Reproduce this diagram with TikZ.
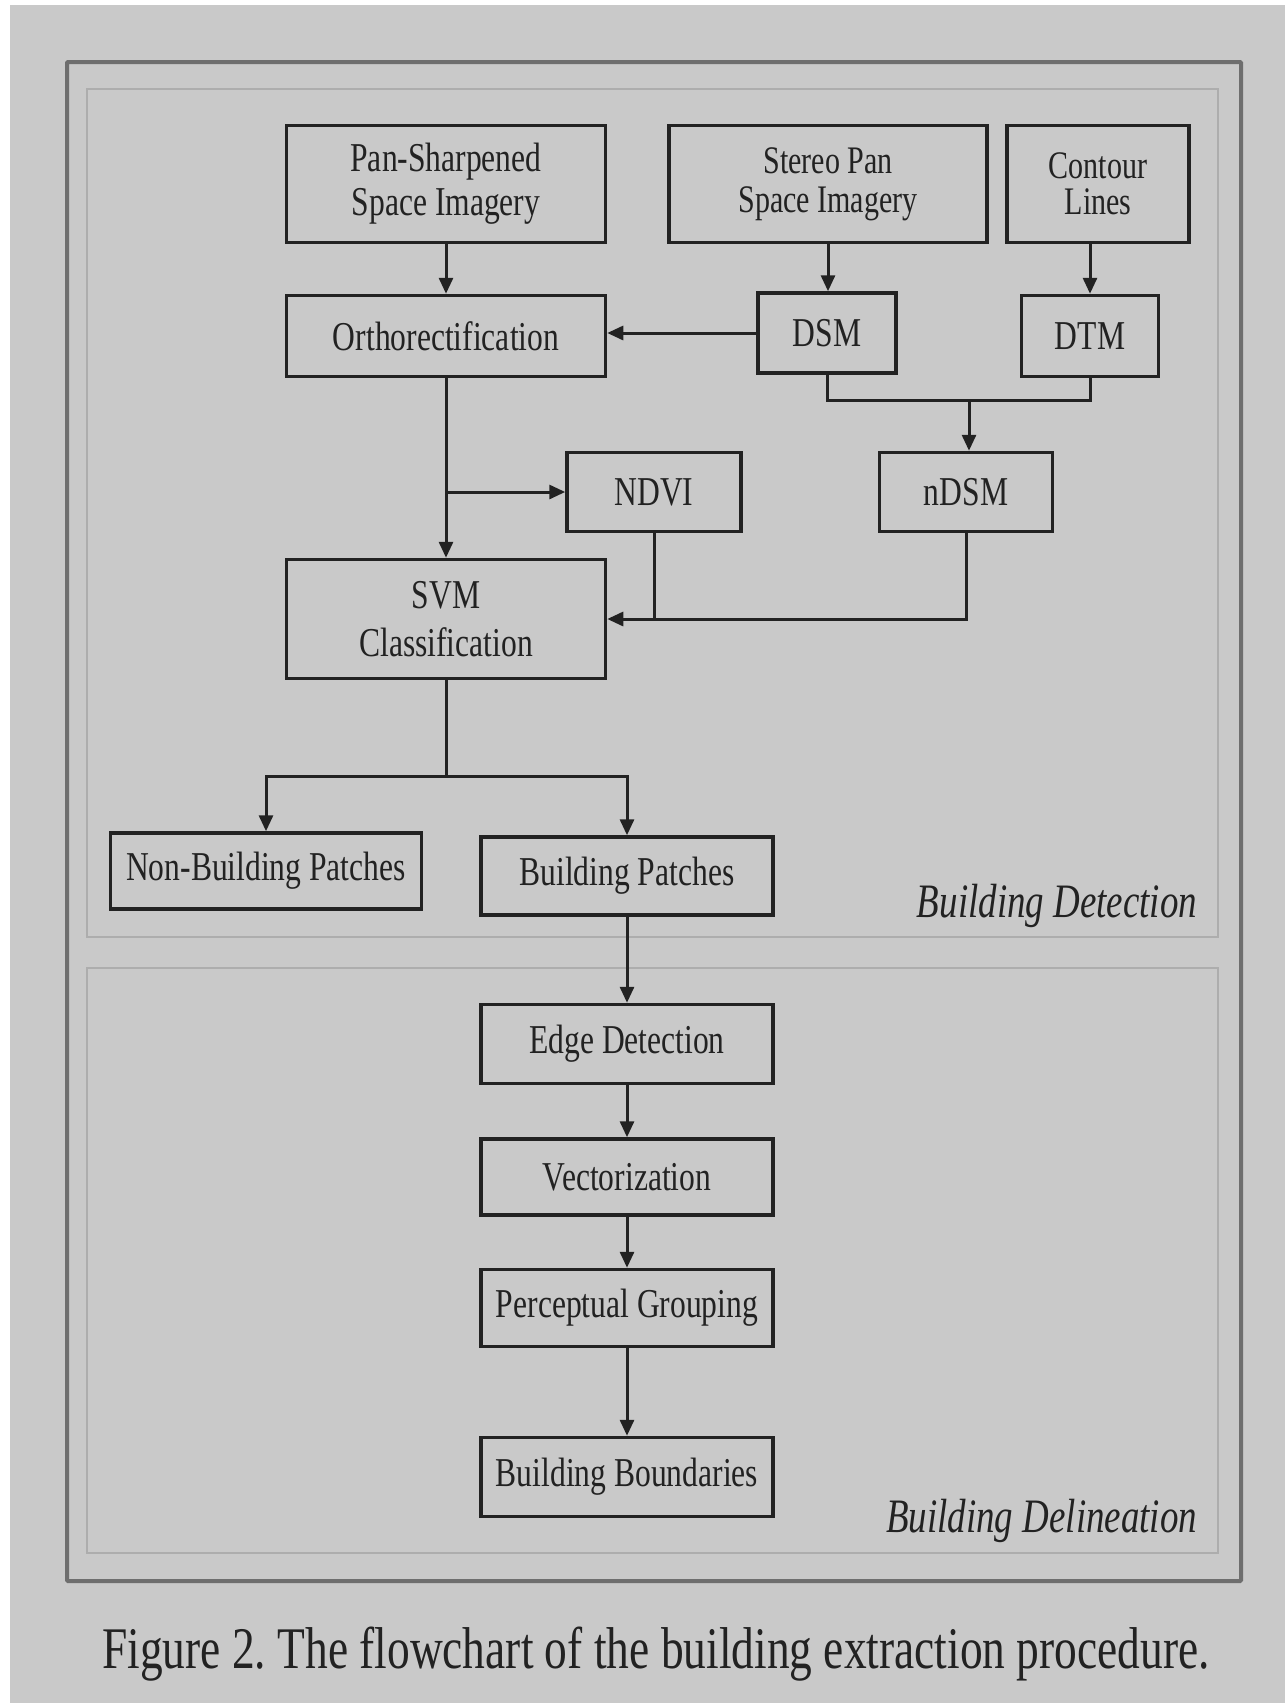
\documentclass[tikz,border=0pt]{standalone}
\usepackage{fontspec}
\setmainfont[FakeStretch=0.77]{Liberation Serif}
\usetikzlibrary{arrows.meta}

\definecolor{bggray}{HTML}{C9C9C9}
\definecolor{framegray}{HTML}{6E6E6E}
\definecolor{panelgray}{HTML}{ADADAD}
\definecolor{inkgray}{HTML}{222222}

\begin{document}
\begin{tikzpicture}[x=1pt,y=-1pt,line width=3pt,
  procbox/.style={draw=inkgray,line width=3.5pt,fill=bggray,text=inkgray,align=center,inner sep=0pt,font=\fontsize{41}{44}\selectfont},
  flow/.style={draw=inkgray,-{Triangle[length=16pt,width=14pt]},line width=3pt},
  link/.style={draw=inkgray,line width=3pt},
  stagelabel/.style={anchor=base east,text=inkgray,font=\fontsize{48}{50}\selectfont\itshape}]

\useasboundingbox (0,0) rectangle (1285,1703);

\fill [white] (0,0) rectangle (1285,1703);
\fill [bggray] (10,5) rectangle (1285,1703);

\draw [framegray,line width=4pt,rounded corners=1] (67,62) rectangle (1241,1581);
\draw [panelgray,line width=2.5pt] (87,89) rectangle (1218,937);
\draw [panelgray,line width=2.5pt] (87,968) rectangle (1218,1553);

\node [procbox,minimum width=319pt,minimum height=117pt] (pan) at (446,184) {Pan-Sharpened\\Space Imagery};
\node [procbox,minimum width=318pt,minimum height=117pt,font=\fontsize{39}{39}\selectfont] (stereo) at (828,184) {Stereo Pan\\Space Imagery};
\node [procbox,minimum width=182pt,minimum height=117pt,font=\fontsize{39}{36}\selectfont] (contour) at (1098,184) {Contour\\Lines};
\node [procbox,minimum width=319pt,minimum height=81pt] (ortho) at (446,336) {Orthorectification};
\node [procbox,minimum width=138pt,minimum height=80pt] (dsm) at (827,333) {DSM};
\node [procbox,minimum width=137pt,minimum height=81pt] (dtm) at (1090,336) {DTM};
\node [procbox,minimum width=174pt,minimum height=79pt] (ndvi) at (654,492) {NDVI};
\node [procbox,minimum width=173pt,minimum height=79pt] (ndsm) at (966,492) {nDSM};
\node [procbox,minimum width=319pt,minimum height=119pt,font=\fontsize{41}{48}\selectfont] (svm) at (446,619) {SVM\\Classification};
\node [procbox,minimum width=311pt,minimum height=76pt] (nonbuild) at (266,871) {Non-Building Patches};
\node [procbox,minimum width=292pt,minimum height=78pt] (build) at (627,876) {Building Patches};
\node [procbox,minimum width=292pt,minimum height=79pt] (edge) at (627,1044) {Edge Detection};
\node [procbox,minimum width=292pt,minimum height=76pt] (vector) at (627,1177) {Vectorization};
\node [procbox,minimum width=292pt,minimum height=77pt] (group) at (627,1308) {Perceptual Grouping};
\node [procbox,minimum width=292pt,minimum height=79pt] (bound) at (627,1477) {Building Boundaries};

\node [stagelabel] (detect) at (1202,917) {Building Detection};
\node [stagelabel] (delin) at (1202,1532) {Building Delineation};

\node [anchor=base,text=inkgray,font=\fontsize{59}{62}\selectfont] (caption) at (656,1668) {Figure 2.\ The flowchart of the building extraction procedure.};

\coordinate (merge) at (969,400);
\coordinate (split) at (446,776);

\draw [flow] (pan) -- (ortho);
\draw [flow] (stereo.south) -- (stereo.south |- dsm.north);
\draw [flow] (contour.south -| dtm.south) -- (dtm.north);
\draw [flow] (dsm.west) -- (dsm.west -| ortho.east);

\draw [link] (dsm.south) |- (merge) -| (dtm.south);
\draw [flow] (merge) -- (merge |- ndsm.north);

\draw [flow] (ortho) -- (svm);
\draw [flow] (ortho.south |- ndvi.west) -- (ndvi.west);

\draw [link] (ndvi.south) -- (ndvi.south |- svm.east);
\draw [flow] (ndsm.south) |- (svm.east);

\draw [link] (svm) -- (split);
\draw [flow] (split) -| (nonbuild);
\draw [flow] (split) -| (build);

\draw [flow] (build) -- (edge);
\draw [flow] (edge) -- (vector);
\draw [flow] (vector) -- (group);
\draw [flow] (group) -- (bound);

\end{tikzpicture}
\end{document}
